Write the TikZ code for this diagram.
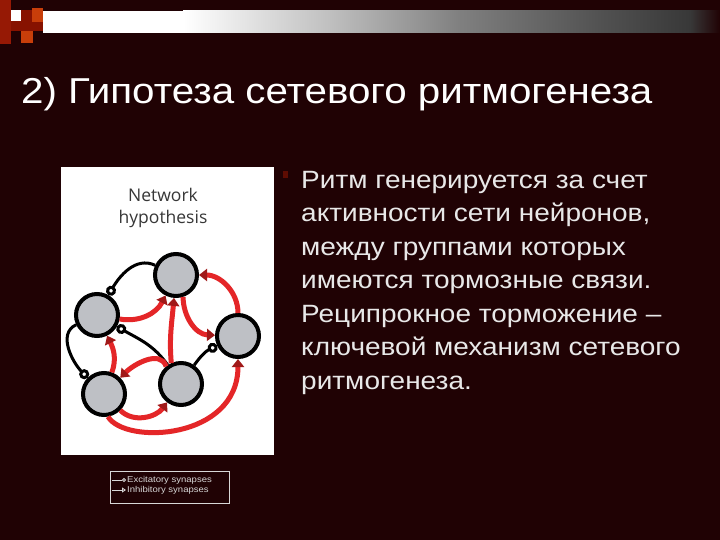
\documentclass[tikz,border=0pt]{standalone}
\usepackage{fontspec}
\setmainfont{Liberation Sans}[FakeStretch=1.12]
\newfontfamily\panelfont{Open Sans}
\usetikzlibrary{arrows.meta, positioning}
\definecolor{slidebg}{RGB}{32,2,4}
\definecolor{synred}{RGB}{228,38,40}
\definecolor{syndark}{RGB}{160,25,25}
\definecolor{somagray}{RGB}{190,192,197}
\definecolor{bodytext}{RGB}{232,232,232}
\definecolor{headgray}{RGB}{55,55,55}
\definecolor{legwhite}{RGB}{215,215,215}
\definecolor{sqred}{RGB}{150,25,5}
\definecolor{sqmid}{RGB}{135,18,0}
\definecolor{sqorange}{RGB}{200,62,10}

\begin{document}
\begin{tikzpicture}[x=1pt, y=1pt,
    neuron/.style={circle, draw=black, fill=somagray, line width=4pt, minimum size=42pt, inner sep=0pt},
    exc/.style={draw=black, line width=3pt, -{Circle[fill=white, length=10pt]}},
    inh/.style={draw=synred, line width=5pt, -{Triangle[length=8pt, width=12pt, color=syndark]}},
    legline/.style={draw=legwhite, line width=0.9pt},
    legtext/.style={font=\fontsize{8.5}{9}\selectfont, text=legwhite, anchor=west, inner sep=0pt}
]

% slide background and corner decoration
\fill[slidebg] (0,0) rectangle (720,-540);
\useasboundingbox (0,0) rectangle (720,-540);
\fill[sqred] (0,0) rectangle (11,-44);
\fill[sqmid] (21,-10) rectangle (32,-22);
\fill[sqmid] (11,-21) rectangle (43,-31);
\fill[white] (11,-10) rectangle (21,-21);
\fill[sqorange] (32,-8) rectangle (43,-22);
\fill[sqorange] (21,-31) rectangle (33,-43);

% header bar
\fill[white] (43,-11) rectangle (183,-33);
\shade[left color=white, right color=black!25] (183,-11) rectangle (330,-33);
\shade[left color=black!25, right color=black!50] (330,-11) rectangle (460,-33);
\shade[left color=black!50, right color=black!68] (460,-11) rectangle (600,-33);
\shade[left color=black!68, right color=black!78] (600,-11) rectangle (690,-33);
\shade[left color=black!78, right color=slidebg] (690,-11) rectangle (720,-33);

% title
\node[anchor=base west, inner sep=0pt, text=white, font=\fontsize{36}{40}\selectfont] (title) at (21,-104) {2) Гипотеза сетевого ритмогенеза};

% text column
\fill[sqmid!60!slidebg] (283,-171) rectangle (288,-178);
\node[anchor=north west, inner sep=0pt, text=bodytext, align=left, font=\fontsize{25}{33.5}\selectfont] (body) at (301,-171) {Ритм генерируется за счет\\активности сети нейронов,\\между группами которых\\имеются тормозные связи.\\Реципрокное торможение –\\ключевой механизм сетевого\\ритмогенеза.};

% figure panel
\fill[white] (61,-167) rectangle (274,-455);
\node[align=center, text=headgray, font=\panelfont\fontsize{17.5}{22.5}\selectfont] (head) at (163,-208) {Network\\hypothesis};

\node[neuron] (top) at (176,-275) {};
\node[neuron] (left) at (97,-315) {};
\node[neuron] (right) at (238,-336) {};
\node[neuron] (botleft) at (104,-394) {};
\node[neuron] (botmid) at (181,-384) {};

% excitatory synapses
\draw[exc] (top) to[out=155, in=60] (left);
\draw[exc] (left) to[out=205, in=135] (botleft);
\draw[exc] (botmid) to[out=125, in=-30] (left);
\draw[exc] (botmid) to[out=55, in=205] (right);

% inhibitory synapses
\draw[inh] (right) to[out=90, in=0] (top);
\draw[inh] (left) to[out=-10, in=243] (top);
\draw[inh] (botmid.115) to[out=95, in=265] (top);
\draw[inh] (top.-72) to[out=-90, in=178] (right);
\draw[inh] (botleft) to[out=70, in=-64] (left);
\draw[inh] (botmid.130) to[out=110, in=45] (botleft);
\draw[inh] (botleft) to[out=-45, in=233] (botmid);
\draw[inh] (botleft.-80) .. controls (125,-445) and (238,-440) .. (right);

% legend
\draw[legwhite, line width=0.6pt] (110,-471) rectangle (229,-503);
\node[legtext] (legexc) at (127,-480) {Excitatory synapses};
\node[legtext] (leginh) at (127,-490) {Inhibitory synapses};
\coordinate (excend) at (112,-480);
\coordinate (inhend) at (112,-490);
\draw[legline, -{Circle[open, length=4pt]}] (excend) -- ([xshift=-1pt]legexc.west);
\draw[legline, -{Triangle[open, length=4pt, width=5pt]}] (inhend) -- ([xshift=-1pt]leginh.west);

\end{tikzpicture}
\end{document}
